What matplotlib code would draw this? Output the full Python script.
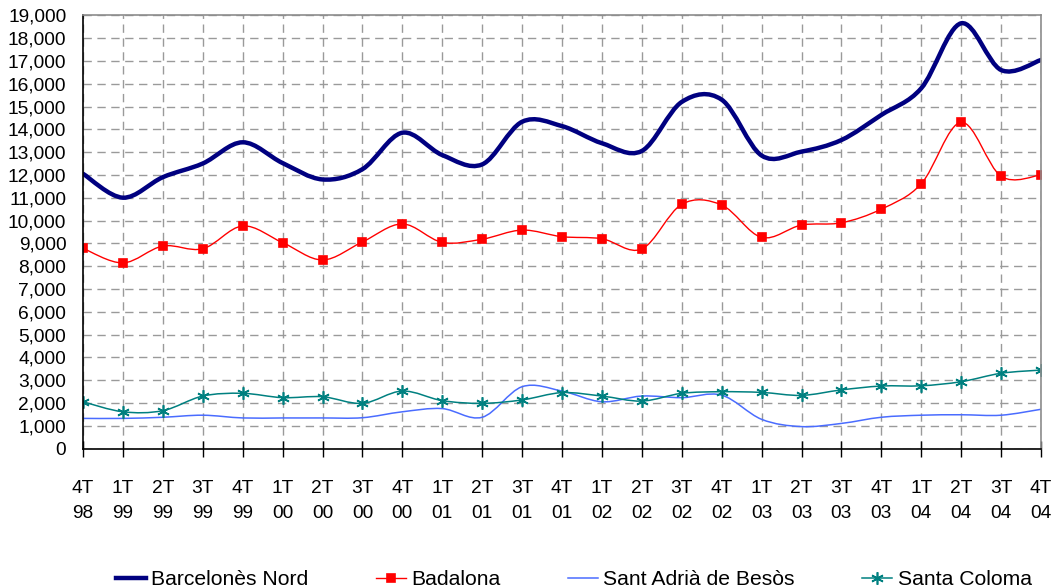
import matplotlib.pyplot as plt
import numpy as np
from matplotlib.path import Path
from matplotlib.patches import PathPatch
from matplotlib.lines import Line2D
from matplotlib.ticker import FuncFormatter

plt.rcParams['font.family'] = ['Liberation Sans', 'DejaVu Sans']

quarters = ['4T\n98', '1T\n99', '2T\n99', '3T\n99', '4T\n99', '1T\n00', '2T\n00', '3T\n00',
            '4T\n00', '1T\n01', '2T\n01', '3T\n01', '4T\n01', '1T\n02', '2T\n02', '3T\n02',
            '4T\n02', '1T\n03', '2T\n03', '3T\n03', '4T\n03', '1T\n04', '2T\n04', '3T\n04',
            '4T\n04']

barcelones_nord = [12050, 11000, 11900, 12500, 13430, 12520, 11800, 12250, 13850, 12870,
                   12460, 14330, 14140, 13390, 13050, 15200, 15300, 12850, 13020, 13530,
                   14630, 15800, 18650, 16600, 17040]
badalona = [8780, 8140, 8880, 8760, 9760, 9030, 8270, 9060, 9850, 9040, 9180, 9580, 9290,
            9200, 8750, 10710, 10680, 9260, 9800, 9900, 10500, 11610, 14310, 11940, 12000]
sant_adria = [1320, 1320, 1370, 1460, 1340, 1340, 1340, 1350, 1610, 1750, 1370, 2710, 2520,
              2050, 2300, 2230, 2340, 1280, 960, 1100, 1370, 1460, 1480, 1460, 1720]
santa_coloma = [2050, 1610, 1660, 2300, 2420, 2230, 2270, 1980, 2520, 2100, 1980, 2130, 2450,
                2300, 2080, 2420, 2490, 2460, 2330, 2570, 2740, 2750, 2930, 3300, 3440]

names = ['Barcelonès Nord', 'Badalona', 'Sant Adrià de Besòs', 'Santa Coloma']
colors = ['#000080', '#ff0000', '#4a6cff', '#008080']
widths = [3.2, 1.0, 1.1, 1.1]
markers = [None, 's', None, (6, 2, 0)]
msizes = [0, 6, 0, 9]


def smooth_path(xs, ys):
    # excel-like smoothed line: catmull-rom turned into cubic bezier segments
    p = np.column_stack([xs, ys]).astype(float)
    n = len(p)
    verts = [p[0]]
    codes = [Path.MOVETO]
    for i in range(n - 1):
        p0 = p[i - 1] if i > 0 else p[i]
        p3 = p[i + 2] if i + 2 < n else p[i + 1]
        c1 = p[i] + (p[i + 1] - p0) / 6
        c2 = p[i + 1] - (p3 - p[i]) / 6
        verts += [c1, c2, p[i + 1]]
        codes += [Path.CURVE4] * 3
    return Path(verts, codes)


fig = plt.figure(figsize=(10.57, 5.88), dpi=100)
ax = fig.add_axes([83 / 1057, 1 - 448.5 / 588, (1041 - 83) / 1057, (448.5 - 15.3) / 588])

x = np.arange(len(quarters))
series = [barcelones_nord, badalona, sant_adria, santa_coloma]
handles = []
for vals, name, c, lw, m, ms in zip(series, names, colors, widths, markers, msizes):
    ax.add_patch(PathPatch(smooth_path(x, vals), fill=False, ec=c, lw=lw,
                           capstyle='round', joinstyle='round'))
    if m is not None:
        ax.plot(x, vals, linestyle='none', marker=m, ms=ms, color=c, mec=c, mew=1.2)
    handles.append(Line2D([], [], color=c, lw=lw, marker=m, ms=ms, mec=c, mew=1.2))

ax.set_xlim(0, len(quarters) - 1)
ax.set_ylim(0, 19000)
ax.set_xticks(x)
ax.set_xticklabels(quarters, linespacing=1.6)
ax.set_yticks(np.arange(0, 19001, 1000))
ax.yaxis.set_major_formatter(FuncFormatter(lambda v, pos: f'{int(v):,}'))

ax.tick_params(axis='x', direction='inout', length=11, width=1, labelsize=13.8, pad=17)
ax.tick_params(axis='y', direction='in', length=0, labelsize=13.8, pad=12)

ax.grid(True, color='#9a9a9a', linestyle=(0, (6, 4)), linewidth=1)
ax.set_axisbelow(True)
for s in ['left', 'bottom']:
    ax.spines[s].set_color('black')
    ax.spines[s].set_linewidth(1.2)
for s in ['top', 'right']:
    ax.spines[s].set_color('#8c8c8c')
    ax.spines[s].set_linewidth(1.2)

fig.legend(handles, names, loc='center left', bbox_to_anchor=(116 / 1057, 0.014),
           ncol=4, frameon=False, fontsize=15.2, handlelength=1.42, handletextpad=0.25,
           columnspacing=3.2, borderpad=0, borderaxespad=0)

fig.savefig('out.png', dpi=100)
